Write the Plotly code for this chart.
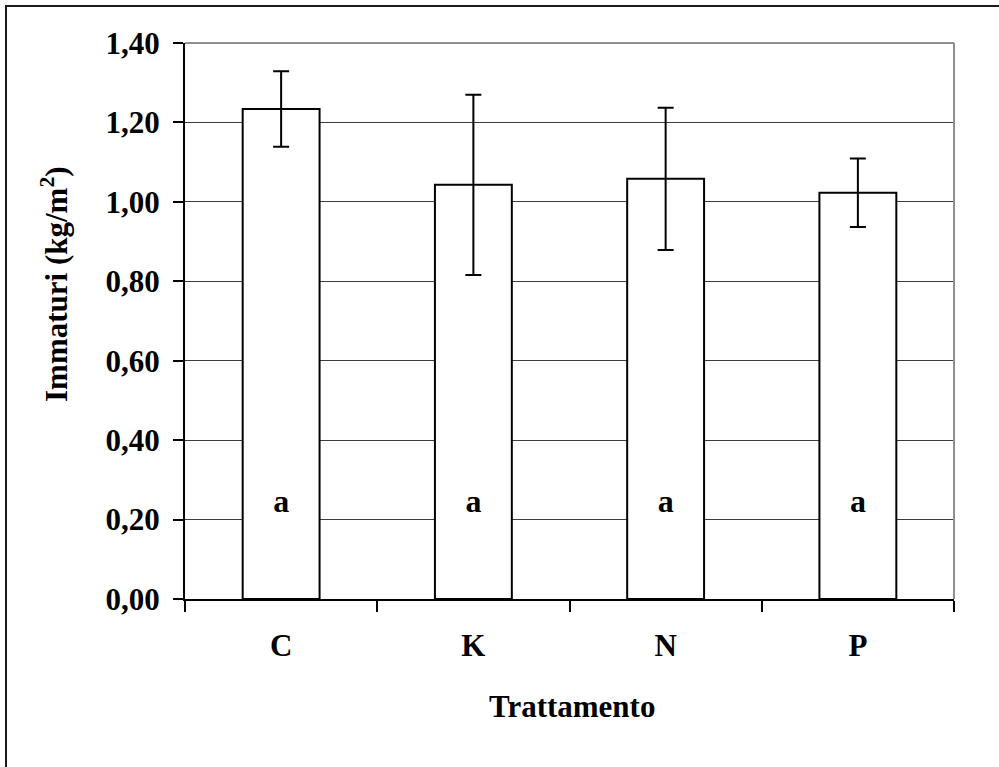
import plotly.graph_objects as go

# Treatments and mean immature yield (kg/m2) with standard errors
trattamenti = ["C", "K", "N", "P"]
immaturi = [1.234, 1.043, 1.058, 1.023]
errore = [0.095, 0.227, 0.179, 0.086]
lettere = ["a", "a", "a", "a"]
y_lettere = [0.24, 0.24, 0.24, 0.24]

y_ticks = [0.0, 0.2, 0.4, 0.6, 0.8, 1.0, 1.2, 1.4]

W, H = 999, 767
M_L, M_R, M_T, M_B = 185, 45, 43, 168
PW, PH = W - M_L - M_R, H - M_T - M_B

FONT = "Liberation Serif, Times New Roman, serif"
FS = 31


def px_x(x):
    return (x - M_L) / PW


def px_y(y):
    return (H - M_B - y) / PH


fig = go.Figure()

fig.add_trace(go.Bar(
    x=trattamenti,
    y=immaturi,
    width=0.4,
    marker=dict(color="white", line=dict(color="black", width=2)),
    error_y=dict(type="data", array=errore, visible=True,
                 color="black", thickness=2, width=8),
    showlegend=False,
    hoverinfo="skip",
))

fig.add_trace(go.Scatter(
    x=trattamenti,
    y=y_lettere,
    mode="text",
    text=lettere,
    textposition="middle center",
    textfont=dict(family=FONT, size=32, color="black", weight="bold"),
    showlegend=False,
    hoverinfo="skip",
))

fig.update_layout(
    width=W, height=H,
    margin=dict(l=M_L, r=M_R, t=M_T, b=M_B, pad=0),
    paper_bgcolor="white",
    plot_bgcolor="white",
    separators=",.",
    font=dict(family=FONT, size=FS, color="black", weight="bold"),
    xaxis=dict(
        type="category",
        tickson="boundaries",
        ticks="outside", ticklen=11, tickwidth=1.5, tickcolor="black",
        showgrid=False,
        showline=True, linecolor="black", linewidth=2,
        tickfont=dict(family=FONT, size=FS, color="black", weight="bold"),
        ticklabelstandoff=18,
        range=[-0.5, 3.5],
        zeroline=False,
    ),
    yaxis=dict(
        range=[0, 1.4],
        tickvals=y_ticks,
        tickformat=".2f",
        ticks="outside", ticklen=10, tickwidth=1.5, tickcolor="black",
        showgrid=True, gridcolor="#3c3c3c", gridwidth=1,
        showline=True, linecolor="black", linewidth=2,
        tickfont=dict(family=FONT, size=FS, color="black", weight="bold"),
        ticklabelstandoff=7,
        zeroline=False,
    ),
    shapes=[
        # grey top and right edges of the plot area
        dict(type="line", xref="paper", yref="paper", x0=0, x1=1, y0=1, y1=1,
             line=dict(color="#8f8f8f", width=2), layer="above"),
        dict(type="line", xref="paper", yref="paper", x0=1, x1=1, y0=0, y1=1,
             line=dict(color="#8f8f8f", width=2), layer="above"),
        # chart frame
        dict(type="rect", xref="paper", yref="paper",
             x0=px_x(6), x1=px_x(1010), y0=px_y(6), y1=px_y(780),
             line=dict(color="#1a1a1a", width=2), layer="below"),
    ],
    annotations=[
        dict(text="Trattamento", xref="paper", yref="paper",
             x=px_x(572), y=px_y(706), xanchor="center", yanchor="middle",
             showarrow=False,
             font=dict(family=FONT, size=FS, color="black", weight="bold")),
        dict(text="Immaturi (kg/m<sup>2</sup>)", xref="paper", yref="paper",
             x=px_x(54), y=px_y(284), xanchor="center", yanchor="middle",
             textangle=-90, showarrow=False,
             font=dict(family=FONT, size=FS, color="black", weight="bold")),
    ],
)

fig.write_html("out.html")
